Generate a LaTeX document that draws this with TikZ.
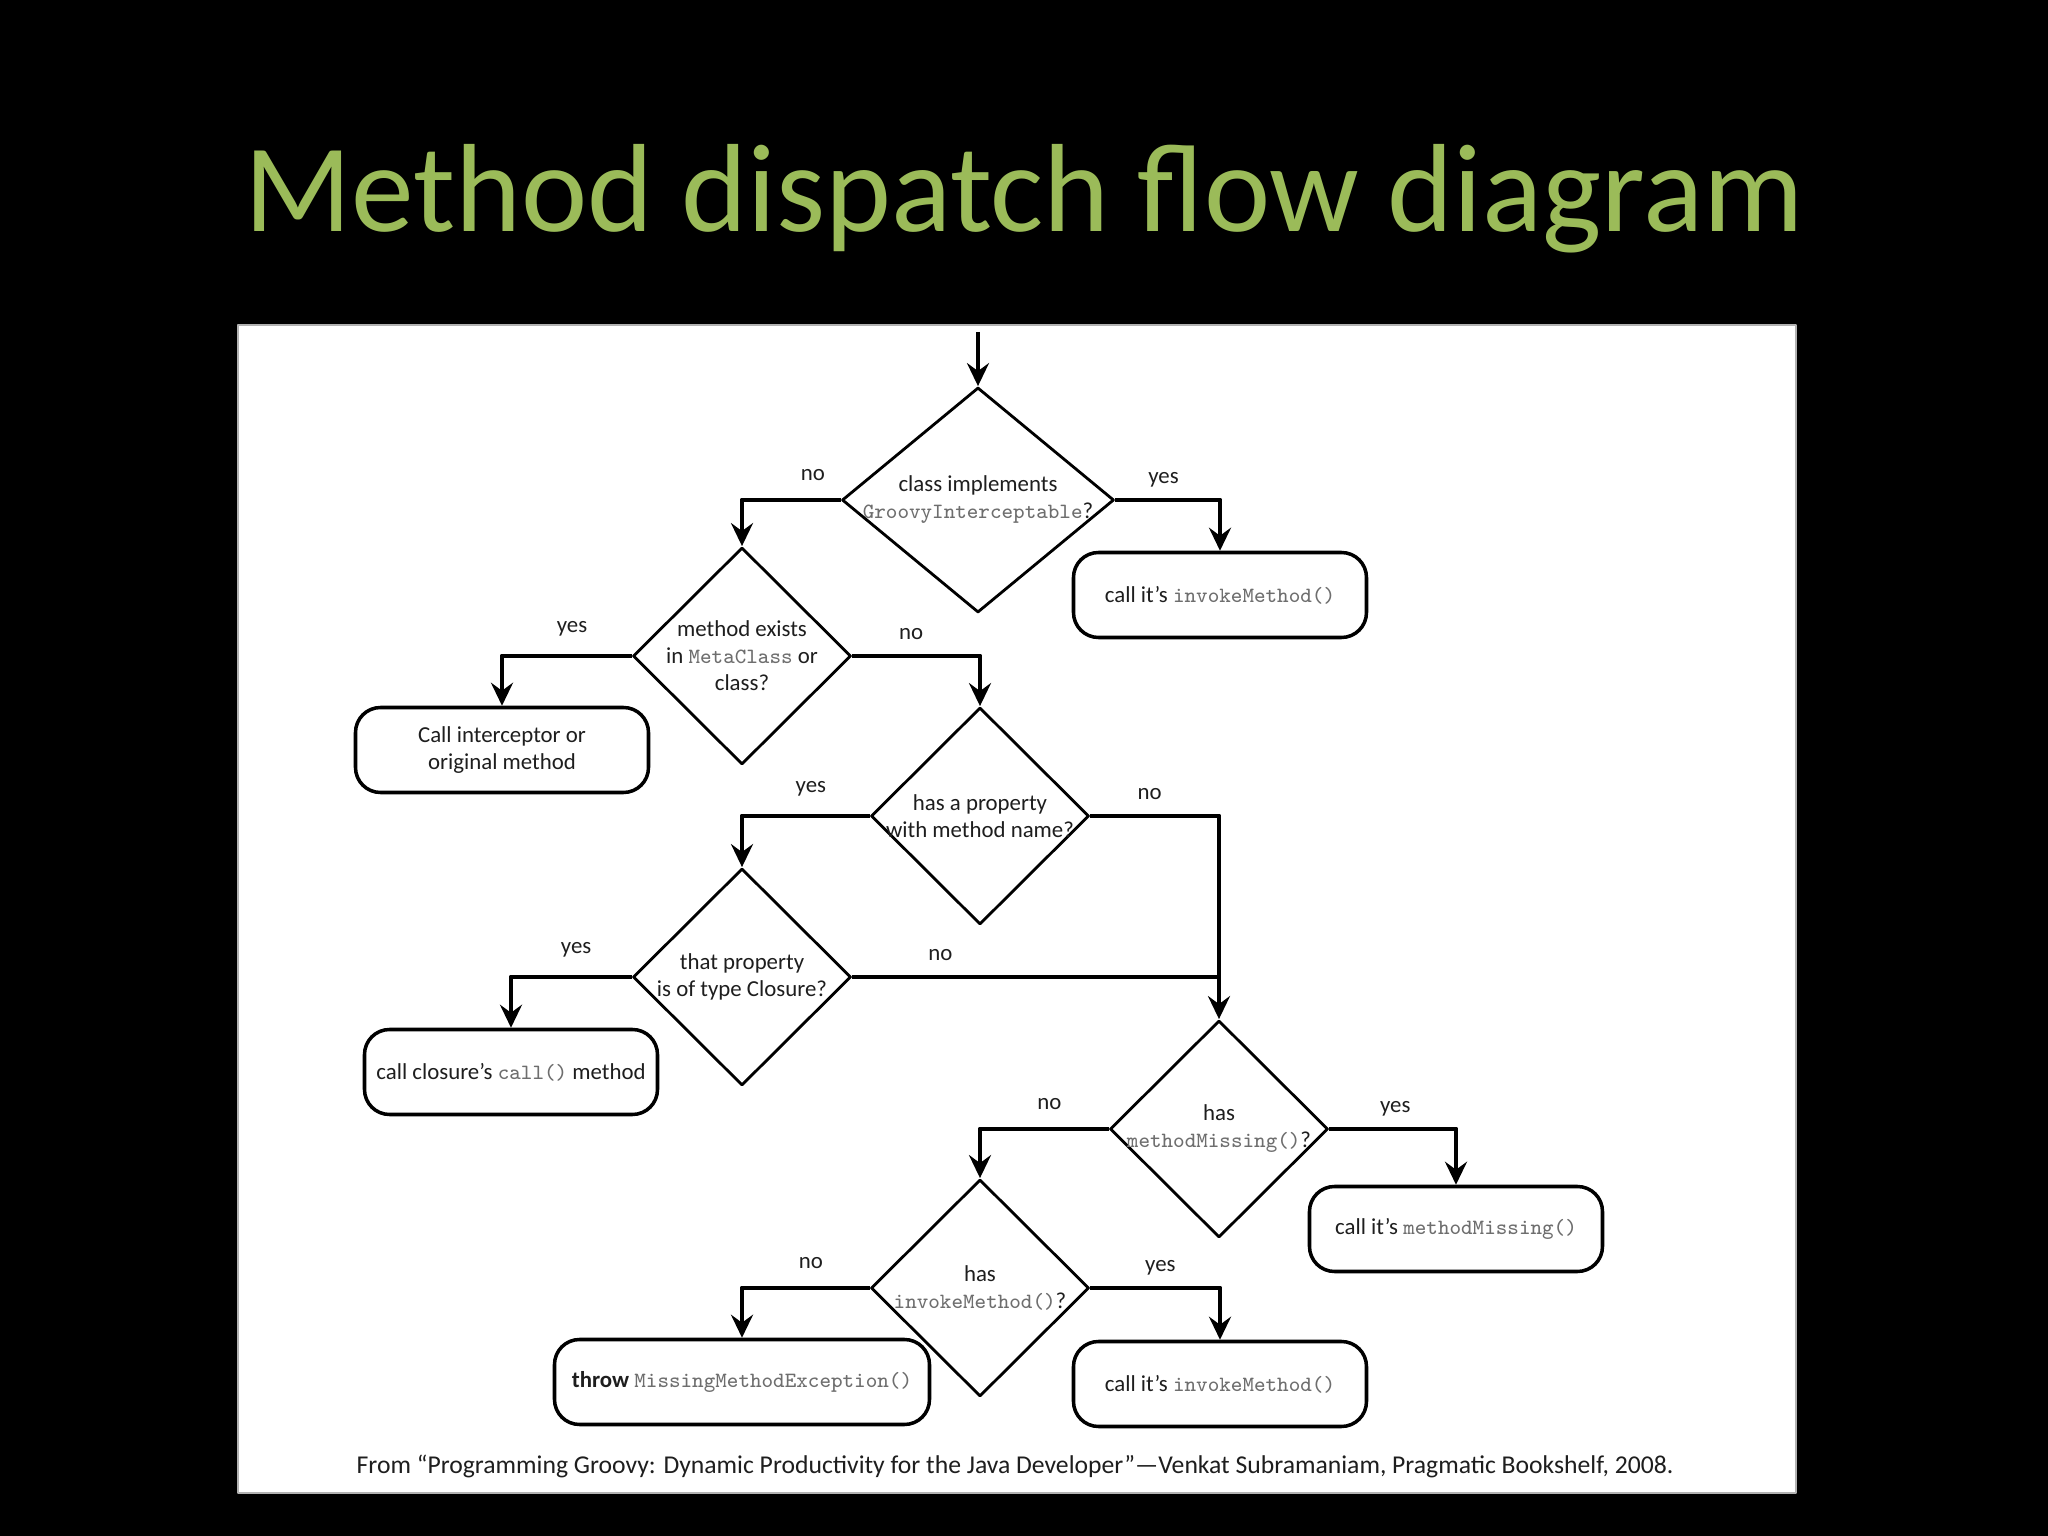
\documentclass[tikz,border=0pt]{standalone}
\usepackage{fontspec}
\setmainfont{Carlito}
\usetikzlibrary{shapes.geometric,arrows.meta}
\definecolor{titlegreen}{HTML}{9BBB59}
\definecolor{codegray}{HTML}{6E6E6E}
\definecolor{inkgray}{HTML}{1E1E1E}
\newcommand{\tcode}[1]{{\ttfamily\fontsize{6.2}{7.7}\selectfont\color{codegray}#1}}

\begin{document}
\begin{tikzpicture}[line join=round,
  font=\fontsize{6.5}{7.7}\selectfont, text=inkgray,
  decision/.style={diamond, draw, line width=0.8pt, inner sep=0pt,
    minimum width=2.18cm, minimum height=2.17cm},
  dtext/.style={align=center, inner sep=0pt},
  action/.style={rectangle, rounded corners=2.5mm, draw, line width=1pt,
    inner sep=0.5mm, minimum width=2.93cm, minimum height=0.85cm, align=center},
  flow/.style={line width=1.4pt, -{Stealth[length=2.3mm,width=2.2mm,inset=0.8mm]}},
  lbl/.style={pos=0.23, above, yshift=1.5pt},
  rlbl/.style={pos=0.23, above, text depth=0pt, yshift=0.8pt}]
  % the slide
  \fill[black] (0,0) rectangle (20.48,-15.36);
  \filldraw[fill=white, draw=gray!60, line width=0.6pt] (2.38,-3.25) rectangle (17.96,-14.93);
  \node[anchor=base, text=titlegreen, font=\fontsize{35.7}{42}\selectfont] (title)
    at (10.24,-2.32) {Method dispatch flow diagram};
  % the decisions
  \node[decision, minimum width=2.72cm, minimum height=2.25cm,
    label={[dtext]center:{class implements\\\tcode{GroovyInterceptable}?}}] (d1) at (9.78,-5.00) {};
  \node[decision, label={[dtext]center:{method exists\\in \tcode{MetaClass} or\\class?}}] (d2) at (7.42,-6.56) {};
  \node[decision, label={[dtext]center:{has a property\\with method name?}}] (d3) at (9.80,-8.16) {};
  \node[decision, label={[dtext]center:{that property\\is of type Closure?}}] (d4) at (7.42,-9.77) {};
  \node[decision, label={[dtext]center:{has\\\tcode{methodMissing()}?}}] (d5) at (12.19,-11.29) {};
  \node[decision, label={[dtext]center:{has\\\tcode{invokeMethod()}?}}] (d6) at (9.80,-12.88) {};
  % the actions
  \node[action] (b1) at (12.20,-5.95) {call it's \tcode{invokeMethod()}};
  \node[action] (b2) at (5.02,-7.50) {Call interceptor or\\original method};
  \node[action] (b3) at (5.11,-10.72) {call closure's \tcode{call()} method};
  \node[action] (b4) at (14.56,-12.29) {call it's \tcode{methodMissing()}};
  \node[action, minimum width=3.75cm] (b5) at (7.42,-13.82) {\textbf{throw} \tcode{MissingMethodException()}};
  \node[action] (b6) at (12.20,-13.84) {call it's \tcode{invokeMethod()}};
  % the flow
  \coordinate (start) at (9.78,-3.32);
  \draw[flow] (start) -- (d1.north);
  \draw[flow] (d1.west) -| node[lbl, pos=0.14] {no} (d2.north);
  \draw[flow] (d1.east) -| node[rlbl] {yes} (b1.north);
  \draw[flow] (d2.west) -| node[lbl] {yes} (b2.north);
  \draw[flow] (d2.east) -| node[rlbl] {no} (d3.north);
  \draw[flow] (d3.west) -| node[lbl] {yes} (d4.north);
  \draw[flow] (d3.east) -| node[rlbl] {no} (d5.north);
  \draw[flow] (d4.west) -| node[lbl] {yes} (b3.north);
  \draw[line width=1.4pt] (d4.east) -- node[rlbl, pos=0.24] {no} (d4.east -| d5.north);
  \draw[flow] (d5.west) -| node[lbl] {no} (d6.north);
  \draw[flow] (d5.east) -| node[rlbl, pos=0.26] {yes} (b4.north);
  \draw[flow] (d6.west) -| node[lbl] {no} (b5.north);
  \draw[flow] (d6.east) -| node[rlbl, pos=0.27] {yes} (b6.north);
  % the source
  \node[anchor=base, font=\fontsize{7.3}{8}\selectfont] (src) at (10.15,-14.73)
    {From ``Programming Groovy: Dynamic Productivity for the Java Developer''---Venkat Subramaniam, Pragmatic Bookshelf, 2008.};
\end{tikzpicture}
\end{document}
